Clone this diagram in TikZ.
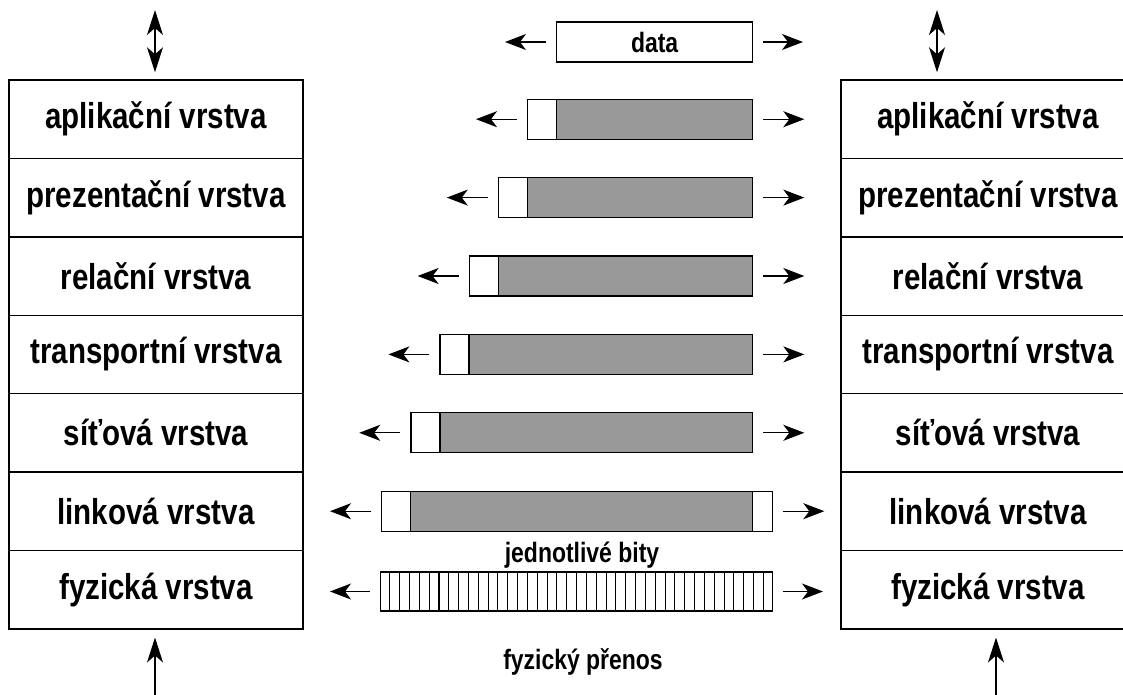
\documentclass[tikz,border=0pt]{standalone}
\usepackage{fontspec}
\setmainfont{Liberation Sans}[FakeStretch=0.82]
\usetikzlibrary{arrows.meta,calc}
\definecolor{paygray}{HTML}{999999}
\begin{document}
\begin{tikzpicture}[x=1pt,y=-1pt,
  layer/.style={draw, line width=1.4pt, minimum width=294pt, minimum height=78.4pt, inner sep=0pt,
                font=\fontsize{36}{40}\selectfont\bfseries},
  pbox/.style={draw, line width=1.3pt, minimum height=40pt, inner sep=0pt, anchor=west},
  hdr/.style={pbox, fill=white},
  pay/.style={pbox, fill=paygray},
  lbl/.style={inner sep=0pt, font=\fontsize{28}{32}\selectfont\bfseries},
  tipH/.tip={Stealth[length=21pt,width=16pt,inset=6pt]},
  tipV/.tip={Stealth[length=25pt,width=16pt,inset=7pt]},
  arr/.style={line width=1.3pt, -tipH},
  varr/.style={line width=1.3pt, -tipV},
  darr/.style={line width=1.3pt, tipV-tipV}
]
\useasboundingbox (0,0) rectangle (1123,695);
\clip (0,0) rectangle (1123,695);

% layer stacks
\foreach \i/\name in {1/aplikační vrstva, 2/prezentační vrstva, 3/relační vrstva,
  4/transportní vrstva, 5/síťová vrstva, 6/linková vrstva, 7/fyzická vrstva}{
  \pgfmathsetmacro{\yc}{80+78.4*(\i-0.5)}
  \node[layer] (L\i) at (156,\yc) {\name};
  \node[layer] (R\i) at (988,\yc) {\name};
}

% data box
\node[pbox, minimum width=196pt, font=\fontsize{28}{32}\selectfont\bfseries] (D) at (556,42) {data};
\coordinate (DL) at (505,42);
\coordinate (DR) at (803,42);
\draw[arr] ([xshift=-10pt]D.west) -- (DL);
\draw[arr] ([xshift=10pt]D.east) -- (DR);

% packets
\foreach \i in {1,...,6}{
  \pgfmathsetmacro{\yc}{80+78.4*(\i-0.5)}
  \pgfmathsetmacro{\lx}{527-29.2*(\i-1)}
  \pgfmathsetmacro{\pw}{752-\lx-29}
  \node[hdr, minimum width=29pt] (H\i) at (\lx,\yc) {};
  \node[pay, minimum width=\pw pt] (P\i) at (\lx+29,\yc) {};
  \coordinate (LA\i) at (\lx-51,\yc);
  \draw[arr] ([xshift=-10pt]H\i.west) -- (LA\i);
}
\foreach \i in {1,...,5}{
  \coordinate (RA\i) at ($(P\i.east)+(51,0)$);
  \draw[arr] ([xshift=10pt]P\i.east) -- (RA\i);
}
% link layer trailer
\node[hdr, minimum width=20pt] (T6) at (752,{80+78.4*5.5}) {};
\coordinate (RA6) at ($(T6.east)+(51,0)$);
\draw[arr] ([xshift=10pt]T6.east) -- (RA6);

% bits
\node[pbox, minimum width=392pt, minimum height=39pt, fill=white] (B) at (380,591.5) {};
\foreach \k in {1,...,39}{
  \draw[line width=1pt] ($(B.north west)!\k/40!(B.north east)$) -- ($(B.south west)!\k/40!(B.south east)$);
}
\coordinate (BL) at (330,591.5);
\coordinate (BR) at (823,591.5);
\draw[arr] ([xshift=-10pt]B.west) -- (BL);
\draw[arr] ([xshift=10pt]B.east) -- (BR);

% labels
\node[lbl] (J) at (582,555) {jednotlivé bity};
\node[lbl] (F) at (583,662) {fyzický přenos};

% vertical arrows
\coordinate (TLa) at (155,10);
\coordinate (TRa) at (937,10);
\draw[darr] (TLa) -- ([yshift=7pt]L1.north -| TLa);
\draw[darr] (TRa) -- ([yshift=7pt]R1.north -| TRa);
\coordinate (BLa) at (155,700);
\coordinate (BRa) at (996,700);
\draw[varr] (BLa) -- ([yshift=-8pt]L7.south -| BLa);
\draw[varr] (BRa) -- ([yshift=-8pt]R7.south -| BRa);
\end{tikzpicture}
\end{document}
